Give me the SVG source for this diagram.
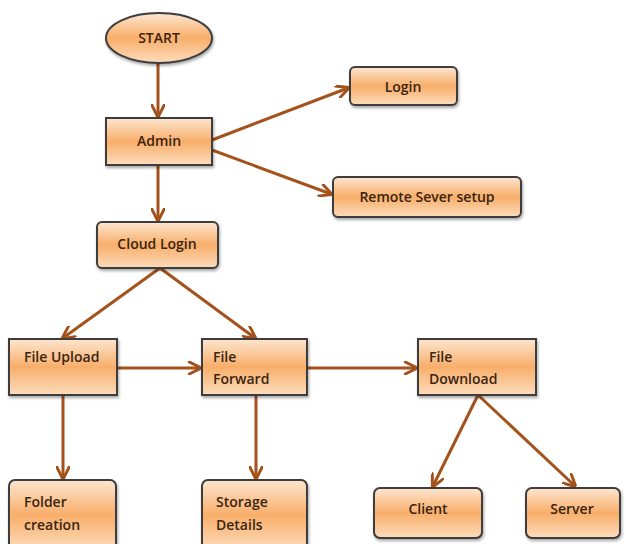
<svg xmlns="http://www.w3.org/2000/svg" width="626" height="544" viewBox="0 0 626 544">
<defs>
<linearGradient id="g" x1="0" y1="0" x2="0" y2="1">
<stop offset="0" stop-color="#fde6d0"/>
<stop offset="0.5" stop-color="#f8ae6a"/>
<stop offset="1" stop-color="#fcdcbc"/>
</linearGradient>
<marker id="ah" viewBox="0 0 10 10" refX="9" refY="5" markerWidth="4.5" markerHeight="4.5" orient="auto" markerUnits="strokeWidth">
<path d="M0,0 L10,5 L0,10" fill="none" stroke="#a4521c" stroke-width="2.2"/>
</marker>
<filter id="sh" x="-10%" y="-10%" width="130%" height="140%">
<feDropShadow dx="1" dy="2" stdDeviation="1.5" flood-color="#000" flood-opacity="0.35"/>
</filter>
</defs>
<style>
.n{fill:url(#g);stroke:#3c3c3c;stroke-width:2;filter:url(#sh)}
.t{font-family:"Open Sans","Liberation Sans",sans-serif;font-size:14px;font-weight:600;fill:#3a2410}
.c{text-anchor:middle}
.e{fill:none;stroke:#a4521c;stroke-width:3;marker-end:url(#ah)}
</style>
<rect width="626" height="544" fill="#ffffff"/>
<g id="connectors">
<line class="e" x1="158" y1="63" x2="158" y2="116"/>
<line class="e" x1="212" y1="140" x2="348" y2="88"/>
<line class="e" x1="212" y1="150" x2="331" y2="194"/>
<line class="e" x1="158" y1="165" x2="158" y2="220"/>
<line class="e" x1="160" y1="268" x2="63" y2="338"/>
<line class="e" x1="160" y1="268" x2="255" y2="338"/>
<line class="e" x1="117" y1="368" x2="200" y2="368"/>
<line class="e" x1="307" y1="368" x2="416" y2="368"/>
<line class="e" x1="63" y1="395" x2="63" y2="478"/>
<line class="e" x1="256" y1="395" x2="256" y2="478"/>
<line class="e" x1="478" y1="395" x2="433" y2="486"/>
<line class="e" x1="478" y1="395" x2="575" y2="486"/>
</g>
<g id="start"><ellipse class="n" cx="159" cy="38" rx="53" ry="25"/><text class="t c" x="159" y="43">START</text></g>
<g id="admin"><rect class="n" x="106" y="118" width="106" height="47"/><text class="t c" x="159" y="146">Admin</text></g>
<g id="login"><rect class="n" x="350" y="67" width="107" height="38" rx="5"/><text class="t c" x="403" y="92">Login</text></g>
<g id="remote"><rect class="n" x="333" y="177" width="188" height="40" rx="5"/><text class="t c" x="427" y="202">Remote Sever setup</text></g>
<g id="cloudlogin"><rect class="n" x="97" y="222" width="121" height="46" rx="5"/><text class="t c" x="157" y="249">Cloud Login</text></g>
<g id="fileupload"><rect class="n" x="9" y="339" width="108" height="56"/><text class="t" x="24" y="362">File Upload</text></g>
<g id="fileforward"><rect class="n" x="202" y="339" width="105" height="56"/><text class="t" x="213" y="362">File</text><text class="t" x="213" y="384">Forward</text></g>
<g id="filedownload"><rect class="n" x="418" y="339" width="118" height="56"/><text class="t" x="429" y="362">File</text><text class="t" x="429" y="384">Download</text></g>
<g id="folder"><rect class="n" x="9" y="480" width="107" height="70" rx="6"/><text class="t" x="24" y="507">Folder</text><text class="t" x="24" y="530">creation</text></g>
<g id="storage"><rect class="n" x="202" y="480" width="105" height="70" rx="6"/><text class="t" x="216" y="507">Storage</text><text class="t" x="216" y="530">Details</text></g>
<g id="client"><rect class="n" x="374" y="488" width="108" height="50" rx="6"/><text class="t c" x="428" y="514">Client</text></g>
<g id="server"><rect class="n" x="526" y="488" width="94" height="50" rx="6"/><text class="t c" x="572" y="514">Server</text></g>
</svg>
